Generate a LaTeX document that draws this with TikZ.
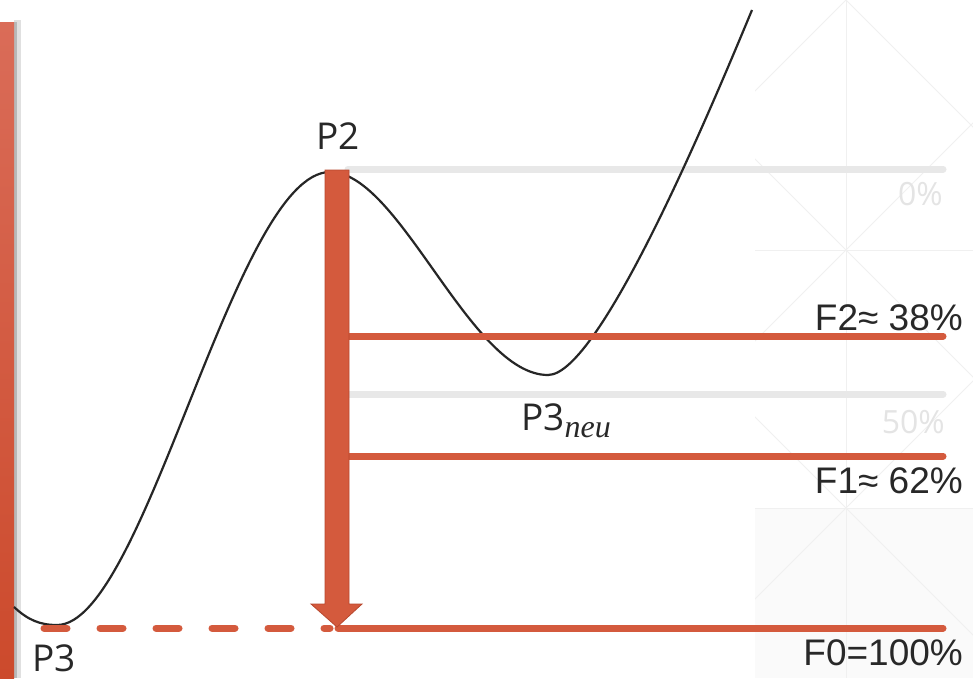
\documentclass[tikz,border=0pt]{standalone}
\usepackage{fontspec}
\setmainfont{Liberation Sans}
\newfontfamily\pfont{Open Sans}
\newfontfamily\sfont{Liberation Serif}
\usetikzlibrary{calc}
\definecolor{fibo}{RGB}{212,90,61}
\definecolor{fiboedge}{RGB}{184,72,46}
\definecolor{lvl}{RGB}{232,232,232}
\definecolor{lvltxt}{RGB}{228,228,228}
\definecolor{txt}{RGB}{40,40,40}
\definecolor{bgline}{RGB}{240,240,240}
\tikzset{
  fibline/.style={draw=fibo, line width=7pt, line cap=round},
  greyline/.style={draw=lvl, line width=7pt, line cap=round},
  flabel/.style={inner sep=0pt, text=txt, font=\fontsize{37}{40}\selectfont},
  plabel/.style={inner sep=0pt, text=txt, font=\pfont\fontsize{37}{40}\selectfont},
  glabel/.style={inner sep=0pt, text=lvltxt, font=\pfont\fontsize{32}{36}\selectfont},
  price/.style={draw=black!85, line width=2.2pt},
  bgpat/.style={draw=bgline, line width=1pt}
}
\begin{document}
\begin{tikzpicture}[x=1pt,y=-1pt]
\useasboundingbox (0,0) rectangle (973,678);
\fill[white] (0,0) rectangle (973,678);
% faint background pattern
\begin{scope}
\clip (755,0) rectangle (973,678);
\fill[black!2] (755,508) rectangle (973,678);
\draw[bgpat] (846,0) -- (846,678);
\draw[bgpat] (755,250) -- (973,250);
\draw[bgpat] (755,508) -- (973,508);
\foreach \k in {0,250,508} {
  \draw[bgpat] ($(846,\k)+(-200,-200)$) -- ($(846,\k)+(200,200)$);
  \draw[bgpat] ($(846,\k)+(-200,200)$) -- ($(846,\k)+(200,-200)$);
}
\end{scope}
% left bar with shadow
\fill[black!12] (14,20) rectangle (21,678);
\fill[black!28] (14,22) rectangle (16.5,678);
\shade[top color={rgb,255:red,218;green,108;blue,88}, bottom color={rgb,255:red,204;green,74;blue,44}] (0,22) rectangle (14,678);
% coordinates
\coordinate (lv0a) at (348,169);
\coordinate (lv0b) at (943,169);
\coordinate (f2a) at (348,336);
\coordinate (f2b) at (943,336);
\coordinate (lv5a) at (348,394);
\coordinate (lv5b) at (943,394);
\coordinate (f1a) at (348,456);
\coordinate (f1b) at (943,456);
\coordinate (f0a) at (338,628);
\coordinate (f0b) at (943,628);
\coordinate (f0d) at (44,628);
% grey levels
\draw[greyline] (lv0a) -- (lv0b);
\draw[greyline] (lv5a) -- (lv5b);
% price curve
\draw[price] (14,607) .. controls (28,620) and (40,625) .. (57,625)
  .. controls (145,625) and (235,172) .. (330,172)
  .. controls (400,172) and (470,375) .. (548,375)
  .. controls (600,375) and (712,106) .. (752,10);
% fib lines
\draw[fibline] (f2a) -- (f2b);
\draw[fibline] (f1a) -- (f1b);
\draw[fibline] (f0a) -- (f0b);
\draw[fibline, dash pattern=on 23pt off 33pt] (f0d) -- (330,628);
% arrow
\filldraw[fill=fibo, draw=fiboedge, line width=0.8pt]
  (325,170) -- (349,170) -- (349,604) -- (362,604) -- (337,627) -- (311,604) -- (325,604) -- cycle;
% labels
\node[plabel, anchor=base west] (p2) at (316,149) {P2};
\node[plabel, anchor=base west] (p3) at (32,671) {P3};
\node[plabel, anchor=base west] (p3n) at (521,430) {P3\raisebox{-7pt}{\sfont\itshape\fontsize{32}{32}\selectfont neu}};
\node[glabel, anchor=base east] (l0) at (943,205) {0\%};
\node[glabel, anchor=base east] (l50) at (945,433) {50\%};
\node[flabel, anchor=base east] (lf2) at (963,330) {F2≈ 38\%};
\node[flabel, anchor=base east] (lf1) at (963,493) {F1≈ 62\%};
\node[flabel, anchor=base east] (lf0) at (963,665) {F0=100\%};
\end{tikzpicture}
\end{document}
